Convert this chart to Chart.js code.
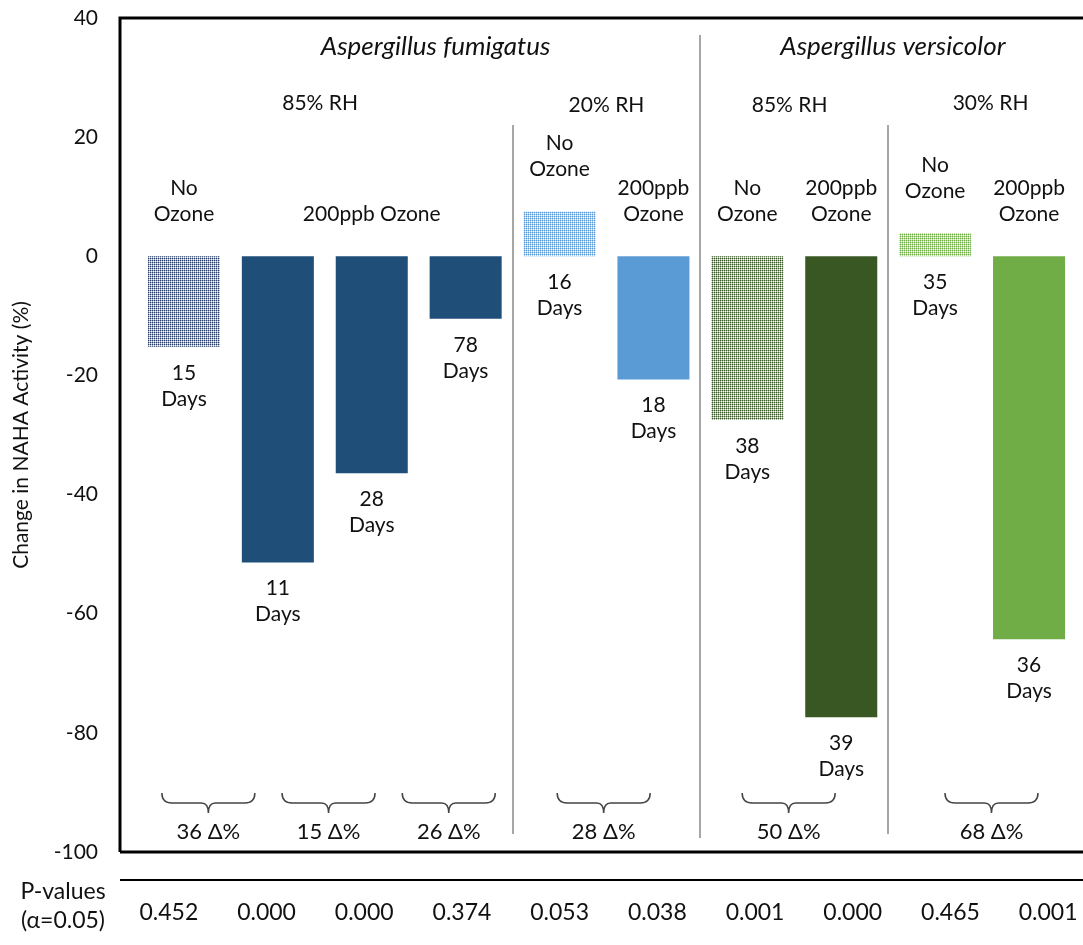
<!DOCTYPE html>
<html>
<head>
<meta charset="utf-8">
<title>NAHA activity under ozone</title>
<script src="https://cdn.jsdelivr.net/npm/chart.js@4.4.0/dist/chart.umd.min.js"></script>
<style>
  html, body { margin: 0; padding: 0; background: #fff; }
  #wrap { width: 1083px; height: 945px; }
</style>
</head>
<body>
<div id="wrap"><canvas id="nahaChart" width="1083" height="945"></canvas></div>
<script>
// Change in NAHA activity per treatment (%)
const categories = ['No Ozone', '200ppb Ozone', '200ppb Ozone', '200ppb Ozone', 'No Ozone',
                    '200ppb Ozone', 'No Ozone', '200ppb Ozone', 'No Ozone', '200ppb Ozone'];
const changeValues = [-15.2, -51.4, -36.4, -10.5, 7.5, -20.7, -27.5, -77.4, 3.9, -64.3];
const exposureDays = [15, 11, 28, 78, 16, 18, 38, 39, 35, 36];
const pValues = ['0.452', '0.000', '0.000', '0.374', '0.053', '0.038', '0.001', '0.000', '0.465', '0.001'];

// brace groups: centre (in category units) and the delta shown under it
const braceCentres = [0.26, 1.54, 2.82, 4.47, 6.44, 8.6];
const deltaPercents = [36, 15, 26, 28, 50, 68];

// species and humidity headers, separators between groups
const species = [
    { at: 2.68, text: 'Aspergillus fumigatus' },
    { at: 7.55, text: 'Aspergillus versicolor' }
];
const humidity = [
    { at: 1.45, text: '85% RH' },
    { at: 4.5, text: '20% RH' },
    { at: 6.45, text: '85% RH' },
    { at: 8.59, text: '30% RH' }
];
const separators = [3.5, 5.5, 7.5];

// treatment captions: the 200ppb group at 85% RH gets one caption over bars 2-4
const treatmentCaptions = [
    { bar: 0, lines: ['No', 'Ozone'] },
    { bar: 2, lines: ['200ppb Ozone'] },
    { bar: 4, lines: ['No', 'Ozone'] },
    { bar: 5, lines: ['200ppb', 'Ozone'] },
    { bar: 6, lines: ['No', 'Ozone'] },
    { bar: 7, lines: ['200ppb', 'Ozone'] },
    { bar: 8, lines: ['No', 'Ozone'] },
    { bar: 9, lines: ['200ppb', 'Ozone'] }
];

const FONT = 'Lato, "Open Sans", sans-serif';
const TEXT = '#111';

function dotPattern(dark, light) {
    const c = document.createElement('canvas');
    c.width = 4; c.height = 4;
    const g = c.getContext('2d');
    g.fillStyle = light;
    g.fillRect(0, 0, 4, 4);
    for (let y = 0; y < 4; y += 2) {
        for (let x = 0; x < 4; x += 2) {
            g.fillStyle = dark;
            g.fillRect(x, y, 1, 1);
            g.fillStyle = '#fff';
            g.fillRect(x + 1, y + 1, 1, 1);
        }
    }
    return g.createPattern(c, 'repeat');
}

const ctx = document.getElementById('nahaChart').getContext('2d');

const barColors = [
    dotPattern('#2a3f6b', '#a3adc4'),
    '#1f4e79', '#1f4e79', '#1f4e79',
    dotPattern('#5b9bd5', '#b0cfee'),
    '#5b9bd5',
    dotPattern('#3b5a29', '#a6b59b'),
    '#385723',
    dotPattern('#70ad47', '#bcdca6'),
    '#70ad47'
];

function drawBrace(c, x1, x2, xm, yTop, yMid, yTip) {
    c.beginPath();
    c.moveTo(x1, yTop);
    c.quadraticCurveTo(x1, yMid, x1 + 10, yMid);
    c.lineTo(xm - 7, yMid);
    c.quadraticCurveTo(xm, yMid, xm, yTip);
    c.moveTo(xm, yTip);
    c.quadraticCurveTo(xm, yMid, xm + 7, yMid);
    c.lineTo(x2 - 10, yMid);
    c.quadraticCurveTo(x2, yMid, x2, yTop);
    c.stroke();
}

function textLines(c, lines, x, y, step) {
    lines.forEach((t, i) => c.fillText(t, x, y + i * step));
}

const annotations = {
    id: 'annotations',
    beforeDatasetsDraw(chart) {
        const c = chart.ctx;
        const xs = chart.scales.x;
        const area = chart.chartArea;
        c.save();
        c.strokeStyle = '#a6a6a6';
        c.lineWidth = 2;
        separators.forEach((s, i) => {
            const x = Math.round(xs.getPixelForValue(s));
            const top = i === 1 ? area.top + 17 : area.top + 107;
            c.beginPath();
            c.moveTo(x, top);
            c.lineTo(x, area.bottom - (i === 1 ? 14 : 18));
            c.stroke();
        });
        c.restore();
    },
    afterDatasetsDraw(chart) {
        const c = chart.ctx;
        const xs = chart.scales.x;
        const ys = chart.scales.y;
        const area = chart.chartArea;
        const frameLeft = area.left - 17;
        c.save();
        c.fillStyle = TEXT;
        c.textAlign = 'center';
        c.textBaseline = 'middle';

        // species headers
        c.font = 'italic 26px ' + FONT;
        species.forEach(s => c.fillText(s.text, xs.getPixelForValue(s.at), area.top + 29));

        // humidity headers
        c.font = '21px ' + FONT;
        humidity.forEach((h, i) => c.fillText(h.text, xs.getPixelForValue(h.at), area.top + (i === 0 || i === 3 ? 85 : 87)));

        // treatment captions above the bar tops
        treatmentCaptions.forEach(t => {
            const x = xs.getPixelForValue(t.bar);
            const top = ys.getPixelForValue(Math.max(0, changeValues[t.bar]));
            const lastY = top - 42;
            textLines(c, t.lines, x, lastY - (t.lines.length - 1) * 26, 26);
        });

        // exposure days below the bar ends
        changeValues.forEach((v, i) => {
            const x = xs.getPixelForValue(i);
            const end = ys.getPixelForValue(Math.min(0, v));
            textLines(c, [String(exposureDays[i]), 'Days'], x, end + 26, 26);
        });

        // braces with delta percentages
        c.strokeStyle = '#444';
        c.lineWidth = 1.5;
        c.font = '22px ' + FONT;
        const half = xs.getPixelForValue(0.5) - xs.getPixelForValue(0);
        braceCentres.forEach((b, i) => {
            const xm = xs.getPixelForValue(b);
            drawBrace(c, xm - half * 0.99, xm + half * 0.99, xm, 793, 803, 813);
            c.fillText(deltaPercents[i] + ' \u0394%', xm, 832);
        });

        // frame: left axis, top and bottom rules
        c.strokeStyle = '#000';
        c.lineWidth = 3;
        c.beginPath();
        c.moveTo(frameLeft, area.bottom);
        c.lineTo(frameLeft, area.top);
        c.lineTo(chart.width, area.top);
        c.moveTo(frameLeft, area.bottom);
        c.lineTo(chart.width, area.bottom);
        c.stroke();

        // p-value row, laid out as ten even table columns from the frame edge
        c.lineWidth = 2;
        c.beginPath();
        c.moveTo(frameLeft, area.bottom + 28);
        c.lineTo(chart.width, area.bottom + 28);
        c.stroke();
        c.font = '23px ' + FONT;
        textLines(c, ['P-values', '(\u03b1=0.05)'], 63, area.bottom + 40, 29);
        const colW = (chart.width + 14 - frameLeft) / pValues.length;
        c.font = '23px ' + FONT;
        pValues.forEach((p, i) => c.fillText(p, frameLeft + colW * (i + 0.5), area.bottom + 61));

        c.restore();
    }
};

new Chart(ctx, {
    type: 'bar',
    data: {
        labels: categories,
        datasets: [{
            data: changeValues,
            backgroundColor: barColors,
            borderWidth: 0,
            barPercentage: 0.767,
            categoryPercentage: 1
        }]
    },
    options: {
        responsive: false,
        animation: false,
        layout: { padding: { top: 18, right: 7, bottom: 93, left: 0 } },
        plugins: {
            legend: { display: false },
            tooltip: { enabled: false }
        },
        scales: {
            x: { display: false, offset: true },
            y: {
                min: -100,
                max: 40,
                afterFit(scale) {
                    scale.width = 137;
                    scale.paddingTop = 0;
                    scale.paddingBottom = 0;
                },
                grid: { display: false, drawTicks: false },
                border: { display: false },
                ticks: {
                    stepSize: 20,
                    padding: 39,
                    color: TEXT,
                    font: { family: FONT, size: 21 }
                },
                title: {
                    display: true,
                    text: 'Change in NAHA Activity (%)',
                    color: TEXT,
                    font: { family: FONT, size: 21 },
                    padding: { top: 9, bottom: 0 }
                }
            }
        }
    },
    plugins: [annotations]
});
</script>
</body>
</html>
